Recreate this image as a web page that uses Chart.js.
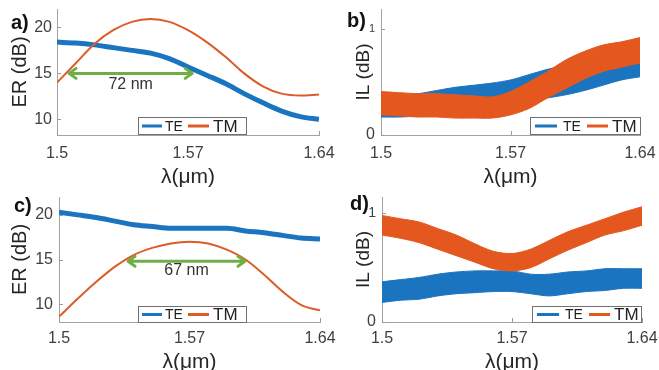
<!DOCTYPE html>
<html><head><meta charset="utf-8">
<script src="https://cdn.jsdelivr.net/npm/chart.js@4.4.1/dist/chart.umd.min.js"></script>
<style>
html,body{margin:0;padding:0;background:#fff;}
#wrap{position:relative;width:659px;height:370px;overflow:hidden;background:#fff;}
#wrap canvas{position:absolute;left:0;top:0;}
.pl{position:absolute;font:bold 20px 'Liberation Sans',Arial,sans-serif;line-height:1;color:#111;}
</style></head><body>
<div id="wrap">
<canvas id="ca" width="659" height="370"></canvas>
<canvas id="cb" width="659" height="370"></canvas>
<canvas id="cc" width="659" height="370"></canvas>
<canvas id="cd" width="659" height="370"></canvas>
<div class="pl" style="left:11px;top:12px">a)</div>
<div class="pl" style="left:347px;top:10px">b)</div>
<div class="pl" style="left:14px;top:195px">c)</div>
<div class="pl" style="left:350px;top:193px">d)</div>
</div>
<script>
// ---------- data ----------
const wavelength = [1.50,1.51,1.52,1.53,1.54,1.55,1.56,1.57,1.58,1.59,1.60,1.61,1.62,1.63,1.64];
const xTicks = [1.5, 1.57, 1.64];
const xTickLabels = ['1.5', '1.57', '1.64'];
const erTicks = [10, 15, 20];
const ilTicks = [0, 1];
const seriesNames = ['TE', 'TM'];

// a) extinction ratio
const erTE_a = [18.4,18.3,18.1,17.8,17.5,17.2,16.6,15.7,14.8,13.9,12.8,11.8,10.9,10.3,10.0];
const erTM_a = [14.0,16.1,18.2,19.7,20.6,20.9,20.6,19.7,18.4,16.8,15.0,13.6,12.8,12.6,12.7];
// b) insertion loss (noise band: lower / upper edge)
const ilTE_b_lo = [0.17,0.17,0.18,0.20,0.22,0.24,0.26,0.29,0.32,0.35,0.38,0.42,0.47,0.52,0.55];
const ilTE_b_hi = [0.37,0.38,0.39,0.42,0.45,0.47,0.49,0.52,0.57,0.62,0.66,0.70,0.73,0.77,0.79];
const ilTM_b_lo = [0.19,0.18,0.17,0.17,0.16,0.16,0.16,0.19,0.25,0.35,0.44,0.53,0.60,0.64,0.68];
const ilTM_b_hi = [0.41,0.40,0.39,0.39,0.38,0.37,0.36,0.41,0.50,0.60,0.71,0.79,0.85,0.88,0.92];
// c) extinction ratio
const erTE_c = [20.3,20.0,19.7,19.3,18.9,18.7,18.5,18.5,18.5,18.5,18.2,18.0,17.7,17.4,17.3];
const erTM_c = [8.6,10.6,12.5,14.2,15.5,16.3,16.8,17.0,16.8,16.1,15.0,13.3,11.4,9.9,9.3];
// d) insertion loss
const ilTE_d_lo = [0.18,0.20,0.21,0.24,0.26,0.27,0.28,0.28,0.26,0.24,0.26,0.28,0.29,0.31,0.31];
const ilTE_d_hi = [0.37,0.39,0.41,0.44,0.46,0.47,0.47,0.47,0.44,0.44,0.46,0.47,0.49,0.49,0.49];
const ilTM_d_lo = [0.80,0.77,0.73,0.67,0.61,0.55,0.49,0.47,0.50,0.58,0.66,0.73,0.80,0.84,0.89];
const ilTM_d_hi = [0.98,0.95,0.92,0.86,0.80,0.72,0.65,0.63,0.67,0.75,0.83,0.89,0.95,1.01,1.06];
// bandwidth arrows
const bandA = [1.5059, 1.5728]; const bandA_level = 15.0; const bandA_label = '72 nm';
const bandC = [1.5365, 1.6003]; const bandC_level = 14.8; const bandC_label = '67 nm';

// ---------- styling ----------
const FONT = "'Liberation Sans', Arial, sans-serif";
const TE_COLOR = '#1a74bf';
const TM_COLOR = '#e4581f';
const TM_LINE = '#dc5c26';
const xy = (xs, ys) => xs.map((x, i) => ({x, y: ys[i]}));

const tickMarks = {
  id: 'tickMarks',
  afterDatasetsDraw(chart) {
    const {ctx, chartArea: a, scales: {x, y}} = chart;
    ctx.save(); ctx.strokeStyle = '#9a9a9a'; ctx.lineWidth = 1; ctx.beginPath();
    x.ticks.forEach(t => { const p = Math.round(x.getPixelForValue(t.value)) + 0.5; ctx.moveTo(p, a.bottom); ctx.lineTo(p, a.bottom - 4); });
    y.ticks.forEach(t => { const p = Math.round(y.getPixelForValue(t.value)) + 0.5; ctx.moveTo(a.left, p); ctx.lineTo(a.left + 4, p); });
    ctx.stroke(); ctx.restore();
  }
};
const boxLegend = {
  id: 'boxLegend',
  afterDraw(chart, args, o) {
    const ctx = chart.ctx; ctx.save();
    ctx.fillStyle = '#fff'; ctx.fillRect(o.left, o.top, o.width, o.height);
    ctx.strokeStyle = '#707070'; ctx.lineWidth = 1;
    ctx.strokeRect(o.left + 0.5, o.top + 0.5, o.width - 1, o.height - 1);
    const cy = o.top + o.height / 2;
    o.items.forEach(it => {
      ctx.strokeStyle = it.color; ctx.lineWidth = 3; ctx.beginPath();
      ctx.moveTo(o.left + it.x0, cy); ctx.lineTo(o.left + it.x1, cy); ctx.stroke();
      ctx.fillStyle = '#222'; ctx.font = it.size + 'px ' + FONT; ctx.textBaseline = 'middle'; ctx.textAlign = 'left';
      ctx.fillText(it.label, o.left + it.tx, cy + 1);
    });
    ctx.restore();
  }
};
const bandArrow = {
  id: 'bandArrow',
  afterDatasetsDraw(chart, args, o) {
    if (!o.span) return;
    const {ctx, scales: {x, y}} = chart;
    const x0 = x.getPixelForValue(o.span[0]), x1 = x.getPixelForValue(o.span[1]), py = y.getPixelForValue(o.level);
    ctx.save(); ctx.strokeStyle = '#6fae45'; ctx.lineWidth = 3; ctx.lineCap = 'round'; ctx.lineJoin = 'round';
    ctx.beginPath(); ctx.moveTo(x0 + 1, py); ctx.lineTo(x1 - 1, py);
    ctx.moveTo(x0 + 8, py - 5); ctx.lineTo(x0 + 1, py); ctx.lineTo(x0 + 8, py + 5);
    ctx.moveTo(x1 - 8, py - 5); ctx.lineTo(x1 - 1, py); ctx.lineTo(x1 - 8, py + 5);
    ctx.stroke();
    ctx.fillStyle = '#333'; ctx.font = '16px ' + FONT; ctx.textAlign = 'center'; ctx.textBaseline = 'middle';
    ctx.fillText(o.label, (x0 + x1) / 2, py + o.dy);
    ctx.restore();
  }
};

function makeChart(id, p) {
  const ilFont = (c) => ({family: FONT, size: (c.tick && c.tick.value === 1) ? p.oneSize : 16});
  return new Chart(document.getElementById(id), {
    type: 'line',
    data: {datasets: p.datasets},
    options: {
      responsive: false, animation: false, events: [],
      layout: {padding: {left: p.L - p.yw, top: p.T, right: 659 - p.R, bottom: 370 - p.B - p.xh}},
      elements: {point: {radius: 0}},
      plugins: {
        legend: {display: false}, tooltip: {enabled: false},
        boxLegend: p.legend, bandArrow: p.arrow || {}
      },
      scales: {
        x: {
          type: 'linear', min: 1.5, max: 1.64,
          afterBuildTicks: s => { s.ticks = xTicks.map(v => ({value: v})); },
          afterFit: s => { s.height = p.xh; s.paddingLeft = 0; s.paddingRight = 0; },
          grid: {display: true, drawOnChartArea: false, drawTicks: false},
          border: {display: true, color: '#a3a3a3', width: 1},
          ticks: {padding: p.xpad, color: '#404040', font: {family: FONT, size: 16}, maxRotation: 0, autoSkip: false,
                  callback: (v, i) => xTickLabels[i]},
          title: {display: true, text: 'λ(μm)', color: '#262626', font: {family: FONT, size: 21}, padding: {top: 0, bottom: p.xtpb}}
        },
        y: {
          type: 'linear', min: p.ymin, max: p.ymax,
          afterBuildTicks: s => { s.ticks = p.yticks.map(v => ({value: v})); },
          afterFit: s => { s.width = p.yw; s.paddingTop = 0; s.paddingBottom = 0; },
          grid: {display: true, drawOnChartArea: false, drawTicks: false},
          border: {display: true, color: '#a3a3a3', width: 1},
          ticks: {padding: p.ypad, color: '#404040', font: p.il ? ilFont : {family: FONT, size: 16}, autoSkip: false,
                  callback: v => String(v)},
          title: {display: true, text: p.ytitle, color: '#262626', font: {family: FONT, size: p.ytsize}, padding: {top: p.ytpt, bottom: 0}}
        }
      }
    },
    plugins: [tickMarks, bandArrow, boxLegend]
  });
}

const lineDs = (label, ys, color, w) => ({label, data: xy(wavelength, ys), borderColor: color, borderWidth: w,
  pointRadius: 0, fill: false, cubicInterpolationMode: 'monotone'});
const bandDs = (label, lo, hi, color) => [
  {label: label + ' lo', data: xy(wavelength, lo), borderColor: color, borderWidth: 1, pointRadius: 0, fill: false, tension: 0.3},
  {label: label, data: xy(wavelength, hi), borderColor: color, borderWidth: 1, pointRadius: 0, fill: '-1', backgroundColor: color, tension: 0.3}
];
const legendItemsA = [
  {label: seriesNames[0], color: TE_COLOR, x0: 4, x1: 24, tx: 27, size: 14},
  {label: seriesNames[1], color: TM_LINE, x0: 50, x1: 71, tx: 75, size: 17}
];
const legendItemsB = [
  {label: seriesNames[0], color: TE_COLOR, x0: 5, x1: 27, tx: 33, size: 14},
  {label: seriesNames[1], color: TM_COLOR, x0: 57, x1: 78, tx: 82, size: 17}
];

makeChart('ca', {
  L: 57, R: 319, T: 9, B: 135, yw: 57, xh: 55, xpad: 9, xtpb: 0, ypad: 5, ytpt: 8, ytsize: 20,
  ymin: 8.3, ymax: 22, yticks: erTicks, ytitle: 'ER (dB)',
  datasets: [lineDs(seriesNames[1], erTM_a, TM_LINE, 2), lineDs(seriesNames[0], erTE_a, TE_COLOR, 5)],
  legend: {left: 138, top: 117, width: 109, height: 18, items: legendItemsA},
  arrow: {span: bandA, level: bandA_level, label: bandA_label, dy: 11}
});
makeChart('cb', {
  L: 381, R: 640, T: 9, B: 135, yw: 42, xh: 55, xpad: 9, xtpb: 0, ypad: 6, ytpt: 13, ytsize: 19, il: true, oneSize: 11,
  ymin: 0, ymax: 1.19, yticks: ilTicks, ytitle: 'IL (dB)',
  datasets: [...bandDs(seriesNames[1], ilTM_b_lo, ilTM_b_hi, TM_COLOR), ...bandDs(seriesNames[0], ilTE_b_lo, ilTE_b_hi, TE_COLOR)],
  legend: {left: 530, top: 117, width: 111, height: 18, items: legendItemsB}
});
makeChart('cc', {
  L: 59, R: 320, T: 197, B: 322, yw: 59, xh: 48, xpad: 7, xtpb: -5, ypad: 6, ytpt: 8, ytsize: 20,
  ymin: 8, ymax: 22, yticks: erTicks, ytitle: 'ER (dB)',
  datasets: [lineDs(seriesNames[1], erTM_c, TM_LINE, 2), lineDs(seriesNames[0], erTE_c, TE_COLOR, 5)],
  legend: {left: 138, top: 306, width: 109, height: 17, items: legendItemsA},
  arrow: {span: bandC, level: bandC_level, label: bandC_label, dy: 9}
});
makeChart('cd', {
  L: 382, R: 642, T: 197, B: 322, yw: 42, xh: 48, xpad: 7, xtpb: -5, ypad: 6, ytpt: 12, ytsize: 19, il: true, oneSize: 14,
  ymin: 0, ymax: 1.15, yticks: ilTicks, ytitle: 'IL (dB)',
  datasets: [...bandDs(seriesNames[1], ilTM_d_lo, ilTM_d_hi, TM_COLOR), ...bandDs(seriesNames[0], ilTE_d_lo, ilTE_d_hi, TE_COLOR)],
  legend: {left: 532, top: 306, width: 110, height: 17, items: legendItemsB}
});
</script>
</body></html>
